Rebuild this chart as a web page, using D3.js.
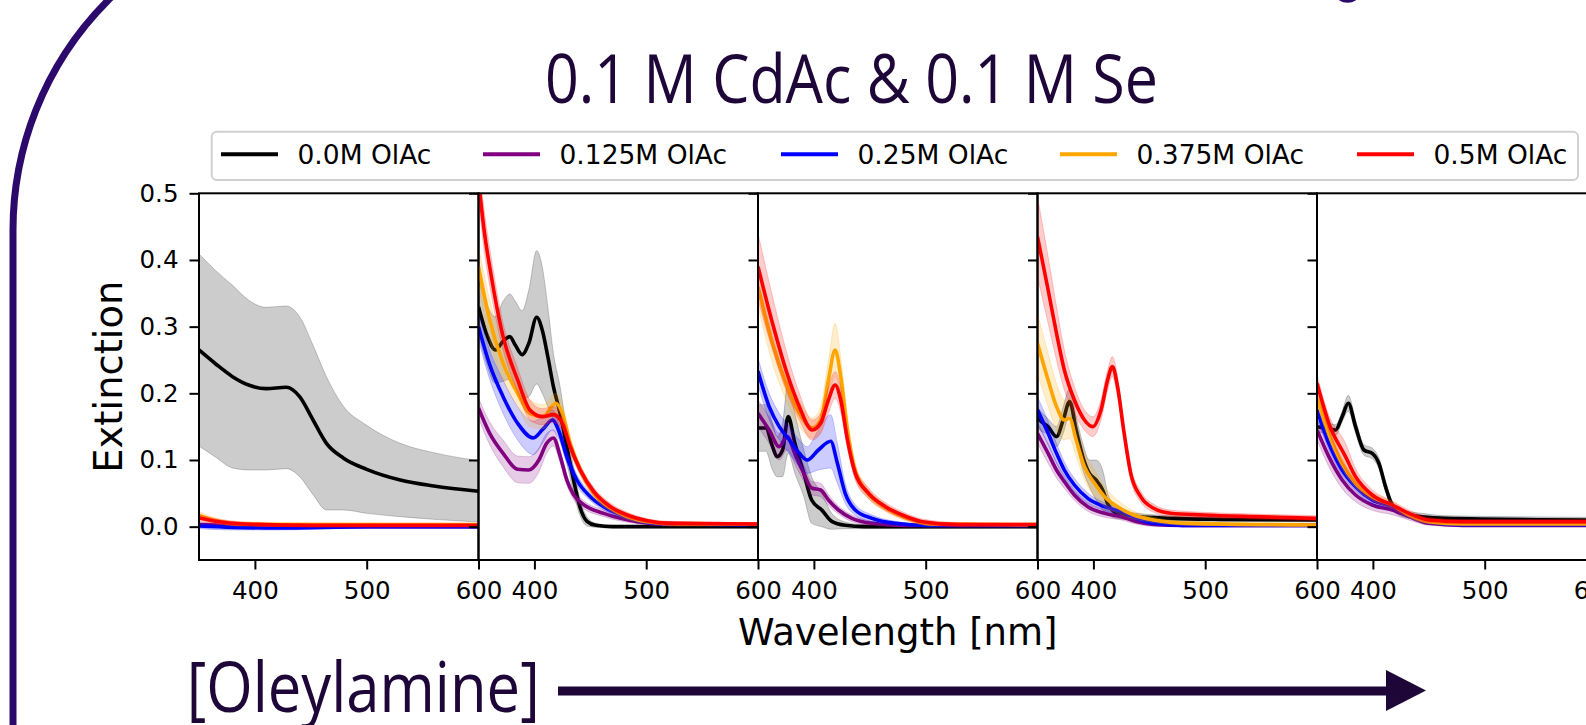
<!DOCTYPE html>
<html><head><meta charset="utf-8">
<script src="https://cdn.jsdelivr.net/npm/d3@7"></script>
<style>html,body{margin:0;padding:0;background:#fff;overflow:hidden}</style>
</head><body><svg id="c" width="1586" height="725"></svg>
<script>
// ---------- DATA ----------
const seriesNames = ["0.0M OlAc","0.125M OlAc","0.25M OlAc","0.375M OlAc","0.5M OlAc"];
const seriesColors = ["#000000","#800080","#0000ff","#ffa500","#ff0000"];
const xTicks = [400,500,600];
const yTicks = [0.0,0.1,0.2,0.3,0.4,0.5];
const yTickLabels = ["0.0","0.1","0.2","0.3","0.4","0.5"];
const xDomain = [350,600];
const yDomain = [-0.05,0.5];
const titleText = "0.1 M CdAc & 0.1 M Se";
const xLabel = "Wavelength [nm]";
const yLabel = "Extinction";
const arrowLabel = "[Oleylamine]";

// rows: [wavelength (nm), mean extinction, std]
// Panel 1
const p1Black = [[350,.265,.144],[365,.244,.14],[380,.225,.137],[395,.212,.127],[410,.207,.122],[428,.209,.122],[440,.195,.12],[452,.16,.112],[464,.125,.1],[479,.103,.078],[500,.086,.066],[530,.07,.055],[560,.061,.05],[600,.053,.046]];
const p1Purple = [[350,.003,.003],[400,.001,.003],[500,0,.002],[600,0,.002]];
const p1Blue = [[350,.001,.004],[380,-.001,.004],[420,-.002,.003],[500,0,.002],[600,0,.002]];
const p1Orange = [[350,.017,.006],[365,.009,.004],[390,.004,.003],[450,.003,.003],[600,.003,.002]];
const p1Red = [[350,.013,.005],[365,.008,.004],[390,.004,.003],[450,.002,.002],[600,.002,.002]];
// Panel 2
const p2Black = [[350,.33,.04],[357,.29,.045],[365,.265,.05],[372,.278,.06],[378,.285,.064],[383,.272,.066],[389,.258,.066],[395,.275,.08],[402,.314,.1],[407,.295,.095],[412,.255,.075],[417,.21,.05],[423,.17,.04],[429,.12,.025],[435,.07,.02],[441,.028,.012],[447,.008,.007],[455,.002,.003],[470,0,.002],[600,0,.002]];
const p2Purple = [[350,.178,.015],[360,.14,.017],[372,.11,.02],[385,.086,.02],[395,.085,.02],[404,.1,.018],[411,.125,.015],[417,.133,.012],[423,.106,.01],[429,.07,.008],[435,.048,.007],[444,.033,.006],[462,.02,.005],[477,.0125,.004],[492,.0075,.003],[510,.004,.003],[600,.004,.002]];
const p2Blue = [[350,.30,.02],[360,.243,.022],[372,.195,.025],[385,.155,.025],[399,.133,.025],[408,.147,.02],[416,.16,.015],[422,.143,.012],[429,.105,.01],[438,.07,.008],[450,.045,.006],[462,.03,.005],[477,.018,.004],[492,.01,.003],[510,.005,.003],[600,.003,.002]];
const p2Orange = [[350,.39,.03],[360,.31,.03],[372,.245,.025],[385,.2,.02],[396,.17,.02],[408,.165,.018],[419,.185,.015],[425,.17,.013],[432,.125,.01],[441,.085,.008],[453,.05,.006],[468,.028,.005],[483,.015,.004],[501,.0075,.003],[530,.004,.003],[600,.004,.002]];
const p2Red = [[350,.52,.03],[355,.445,.03],[361,.38,.028],[372,.285,.02],[385,.22,.018],[396,.175,.015],[407,.165,.012],[417,.168,.012],[425,.155,.01],[432,.12,.008],[441,.085,.007],[453,.053,.006],[468,.03,.005],[483,.0175,.004],[501,.009,.003],[522,.005,.003],[600,.004,.002]];
// Panel 3
const p3Black = [[350,.148,.035],[357,.148,.035],[363,.12,.035],[367,.105,.03],[372,.115,.04],[377,.165,.055],[383,.125,.045],[391,.08,.035],[398,.04,.035],[407,.025,.025],[416,.008,.012],[428,.002,.005],[445,0,.003],[600,0,.002]];
const p3Purple = [[350,.17,.02],[360,.145,.02],[369,.12,.02],[376,.135,.02],[384,.105,.015],[391,.08,.012],[398,.058,.01],[406,.055,.01],[413,.04,.008],[422,.025,.006],[434,.0125,.005],[452,.005,.003],[480,.002,.002],[600,.002,.002]];
const p3Blue = [[350,.233,.02],[360,.18,.02],[369,.15,.02],[378,.13,.02],[387,.11,.02],[394,.1,.02],[404,.115,.03],[415,.128,.04],[421,.095,.03],[428,.05,.015],[437,.025,.008],[452,.0125,.005],[473,.005,.003],[500,.002,.002],[600,.002,.002]];
const p3Orange = [[350,.36,.03],[363,.275,.03],[375,.215,.025],[387,.17,.02],[398.5,.148,.015],[406,.16,.02],[413,.22,.03],[419,.265,.04],[424,.225,.03],[430,.145,.02],[436,.09,.012],[446,.055,.008],[458,.035,.006],[473,.02,.005],[488,.01,.004],[506,.004,.003],[600,.003,.002]];
const p3Red = [[350,.39,.05],[363,.305,.04],[375,.235,.03],[387,.18,.02],[398.5,.145,.015],[406,.155,.015],[413,.19,.02],[419,.2125,.02],[424,.19,.018],[430,.13,.012],[437,.08,.01],[449,.05,.008],[464,.03,.006],[479,.0175,.005],[497,.0075,.004],[530,.003,.003],[600,.003,.002]];
// Panel 4
const p4Black = [[350,.165,.015],[352,.16,.015],[359.5,.15,.012],[367,.135,.015],[373,.16,.02],[378.7,.1875,.02],[384.6,.145,.02],[390.5,.105,.02],[396.4,.08,.02],[402.4,.07,.03],[408.3,.055,.03],[413.3,.0325,.015],[421.6,.02,.008],[439,.015,.005],[469,.0125,.004],[513,.011,.003],[600,.01,.003]];
const p4Purple = [[350,.14,.015],[359.5,.11,.015],[367,.085,.012],[374,.0675,.01],[383,.0475,.008],[395,.03,.007],[410,.02,.006],[425,.015,.005],[439,.0075,.004],[454,.0035,.003],[480,.002,.002],[600,.002,.002]];
const p4Blue = [[350,.175,.02],[359.5,.14,.018],[367,.11,.015],[374,.085,.012],[383,.0625,.01],[395,.0425,.008],[410,.03,.006],[425,.0225,.005],[439,.0125,.004],[454,.005,.003],[480,.002,.002],[600,.002,.002]];
const p4Orange = [[350,.275,.045],[359.5,.22,.04],[367,.18,.035],[374,.16,.03],[378.7,.1625,.03],[384.6,.13,.025],[392,.09,.02],[401,.065,.02],[410,.045,.015],[421.6,.03,.01],[436,.0175,.006],[454,.01,.004],[484,.005,.003],[600,.0025,.002]];
const p4Red = [[350,.435,.06],[359.5,.355,.05],[367,.29,.04],[374,.235,.03],[383,.19,.02],[392,.16,.015],[399.4,.15,.015],[406.8,.175,.015],[412.7,.22,.015],[417,.24,.015],[421.6,.21,.015],[427.5,.14,.012],[433.4,.08,.01],[442.3,.045,.008],[454,.0275,.006],[469,.02,.005],[498.5,.0175,.004],[543,.015,.004],[600,.0125,.004]];
// Panel 5
const p5Black = [[350,.15,.008],[359,.1475,.008],[366.6,.145,.008],[372.5,.165,.008],[378,.185,.012],[384.5,.15,.01],[392,.115,.008],[399.4,.11,.008],[405.4,.095,.008],[411.3,.06,.008],[417.3,.0325,.006],[426.3,.02,.005],[444,.015,.005],[465,.0125,.004],[600,.01,.004]];
const p5Purple = [[350,.145,.015],[360.6,.105,.015],[372.5,.07,.013],[384.5,.0475,.01],[399.4,.0325,.008],[417.3,.025,.007],[432.2,.015,.005],[450,.005,.003],[480,.002,.002],[600,.002,.002]];
const p5Blue = [[350,.175,.012],[360.6,.125,.01],[372.5,.085,.008],[384.5,.06,.007],[399.4,.04,.006],[417.3,.03,.005],[432.2,.0175,.004],[450,.0075,.003],[480,.003,.002],[600,.003,.002]];
const p5Orange = [[350,.1925,.01],[360.6,.14,.01],[372.5,.095,.008],[384.5,.065,.007],[399.4,.045,.006],[417.3,.0325,.005],[432.2,.0175,.004],[450,.0075,.003],[480,.004,.002],[600,.004,.002]];
const p5Red = [[350,.215,.012],[360.6,.155,.012],[375.5,.105,.02],[384.5,.075,.012],[399.4,.0475,.008],[417.3,.0325,.006],[432.2,.02,.005],[450,.01,.004],[480,.0075,.003],[600,.0075,.003]];

const panels = [
  [p1Black,p1Purple,p1Blue,p1Orange,p1Red],
  [p2Black,p2Purple,p2Blue,p2Orange,p2Red],
  [p3Black,p3Purple,p3Blue,p3Orange,p3Red],
  [p4Black,p4Purple,p4Blue,p4Orange,p4Red],
  [p5Black,p5Purple,p5Blue,p5Orange,p5Red]
];

// ---------- LAYOUT ----------
const plotLeft = 199, panelW = 279.5, plotTop = 193.3, plotBottom = 560;
const FONT = "'DejaVu Sans', sans-serif";
const DECO = "'Open Sans', 'Noto Sans', sans-serif";
const ink = "#1e0638";
const frame = "#2c0a6c";
const legendStarts = [221, 483, 781, 1060, 1357];

const svg = d3.select("#c");
const defs = svg.append("defs");

// decorative frame (rounded outline)
svg.append("path")
  .attr("d", "M13,760 L13,230 A325,325 0 0 1 338,-95")
  .attr("fill","none").attr("stroke",frame).attr("stroke-width",7);
svg.append("ellipse").attr("cx",1347.5).attr("cy",-6).attr("rx",10).attr("ry",7)
  .attr("fill","none").attr("stroke",frame).attr("stroke-width",3.5);

// title
svg.append("text").attr("x",545).attr("y",103.3)
  .attr("textLength",613).attr("lengthAdjust","spacingAndGlyphs")
  .style("font-family",DECO).style("font-size","67px").style("font-weight",500).attr("fill",ink)
  .text(titleText);

const y = d3.scaleLinear().domain(yDomain).range([plotBottom, plotTop]);

panels.forEach((series, i) => {
  const x0 = plotLeft + i*panelW;
  const x = d3.scaleLinear().domain(xDomain).range([x0, x0+panelW]);
  const clipId = "clip"+i;
  defs.append("clipPath").attr("id",clipId).append("rect")
    .attr("x",x0).attr("y",plotTop).attr("width",panelW).attr("height",plotBottom-plotTop);
  const plot = svg.append("g").attr("clip-path",`url(#${clipId})`);
  const area = d3.area().x(d=>x(d[0])).y0(d=>y(d[1]-d[2])).y1(d=>y(d[1]+d[2])).curve(d3.curveMonotoneX);
  const line = d3.line().x(d=>x(d[0])).y(d=>y(d[1])).curve(d3.curveMonotoneX);
  series.forEach((s,k) => {
    plot.append("path").attr("d",area(s))
      .attr("fill",seriesColors[k]).attr("fill-opacity",0.2)
      .attr("stroke",seriesColors[k]).attr("stroke-opacity",0.2).attr("stroke-width",1);
    plot.append("path").attr("d",line(s))
      .attr("fill","none").attr("stroke",seriesColors[k]).attr("stroke-width",3.6)
      .attr("stroke-linejoin","round");
  });
  const gx = svg.append("g").attr("transform",`translate(0,${plotBottom})`)
    .call(d3.axisBottom(x).tickValues(xTicks).tickSize(9.5).tickPadding(12).tickFormat(d3.format("d")));
  const gy = svg.append("g").attr("transform",`translate(${x0},0)`)
    .call(d3.axisLeft(y).tickValues(yTicks).tickSize(9.5).tickPadding(11)
      .tickFormat((d,j)=> i===0 ? yTickLabels[j] : ""));
  [gx,gy].forEach(g => {
    g.select(".domain").remove();
    g.selectAll(".tick line").attr("stroke","#000").attr("stroke-width",2);
    g.selectAll(".tick text").attr("fill","#000").style("font-family",FONT).style("font-size","24.5px");
  });
  svg.append("rect").attr("x",x0).attr("y",plotTop).attr("width",panelW).attr("height",plotBottom-plotTop)
    .attr("fill","none").attr("stroke","#000").attr("stroke-width",2);
});

// axis labels
svg.append("text").attr("x",(plotLeft + plotLeft + 5*panelW)/2).attr("y",645)
  .attr("text-anchor","middle").style("font-family",FONT).style("font-size","37px").attr("fill","#000")
  .text(xLabel);
svg.append("text").attr("transform",`translate(122,${(plotTop+plotBottom)/2}) rotate(-90)`)
  .attr("text-anchor","middle").style("font-family",FONT).style("font-size","38.5px").attr("fill","#000")
  .text(yLabel);

// legend
const leg = svg.append("g");
leg.append("rect").attr("x",211.7).attr("y",131.7).attr("width",1578-211.7).attr("height",48.3).attr("rx",5)
  .attr("fill","#fff").attr("fill-opacity",0.8).attr("stroke","#d0d0d0").attr("stroke-width",2);
seriesNames.forEach((n,k) => {
  const cx = legendStarts[k];
  leg.append("line").attr("x1",cx).attr("x2",cx+57).attr("y1",154.3).attr("y2",154.3)
    .attr("stroke",seriesColors[k]).attr("stroke-width",4);
  leg.append("text").attr("x",cx+76.5).attr("y",163.5)
    .style("font-family",FONT).style("font-size","26.5px").attr("fill","#000").text(n);
});

// [Oleylamine] and arrow
svg.append("text").attr("x",186.7).attr("y",711.5)
  .attr("textLength",353).attr("lengthAdjust","spacingAndGlyphs")
  .style("font-family",DECO).style("font-size","70px").attr("fill",ink)
  .text(arrowLabel);
svg.append("line").attr("x1",558).attr("x2",1392).attr("y1",691).attr("y2",691)
  .attr("stroke",ink).attr("stroke-width",9);
svg.append("path").attr("d","M1386,670 L1426,690.5 L1386,711 Z").attr("fill",ink);
</script>
</body></html>
